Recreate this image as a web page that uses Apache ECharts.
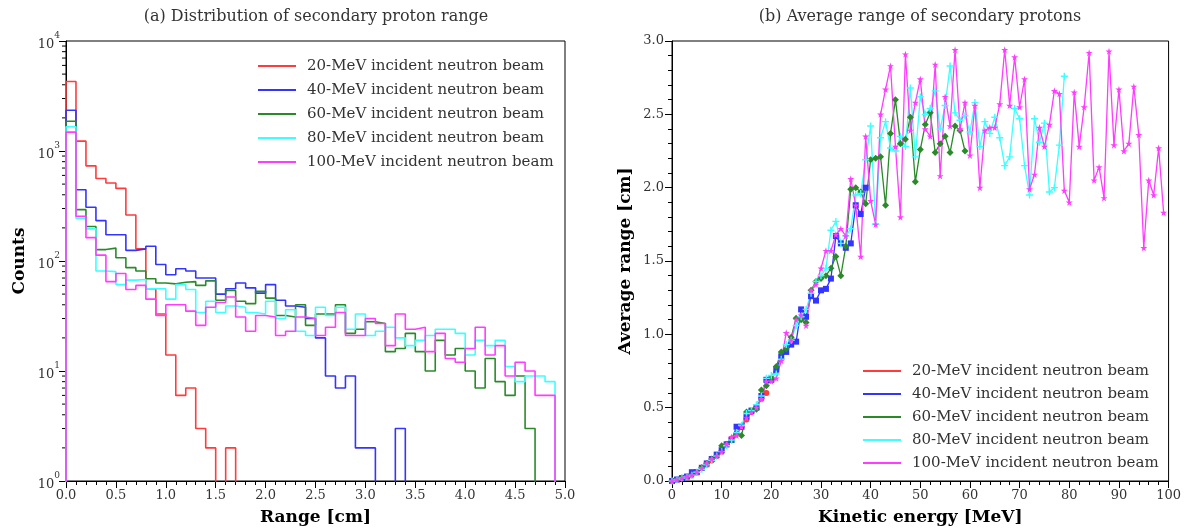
<!DOCTYPE html>
<html>
<head>
<meta charset="utf-8">
<script src="https://cdn.jsdelivr.net/npm/echarts/dist/echarts.min.js"></script>
<style>
html, body { margin: 0; padding: 0; background: #fff; }
#main { width: 1184px; height: 531px; }
</style>
</head>
<body>
<div id="main"></div>
<script>
// beam names (legend)
const beamNames = [
  '20-MeV incident neutron beam',
  '40-MeV incident neutron beam',
  '60-MeV incident neutron beam',
  '80-MeV incident neutron beam',
  '100-MeV incident neutron beam'
];
const beamColors = ['#ff3b3b', '#3434ff', '#2a8a2a', '#3cffff', '#ff3cff'];

// (a) range histograms, 0.1 cm bins starting at 0.0 cm
const binWidth = 0.1;
const counts20 = [4290,1230,733,563,511,457,262,129,56,33, 14,6,7,3,2,0,2,0,0,0, 0,0,0,0,0,0,0,0,0,0, 0,0,0,0,0,0,0,0,0,0, 0,0,0,0,0,0,0,0,0,0];
const counts40 = [2350,444,308,233,173,173,125,129,136,93, 75,85,81,70,70,50,56,63,57,51, 61,44,39,38,30,20,9,7,9,2, 2,0,0,3,0,0,0,0,0,0, 0,0,0,0,0,0,0,0,0,0];
const counts60 = [1866,293,206,127,131,107,87,81,69,63, 62,64,65,60,66,44,54,43,41,53, 46,32,31,40,26,33,33,40,22,24, 28,27,15,16,22,15,10,19,14,16, 10,7,13,8,6,9,3,0,0,0];
const counts80 = [1660,245,196,81,80,61,67,68,56,56, 45,61,55,34,43,34,39,38,34,33, 43,30,36,23,21,38,32,38,24,33, 21,23,25,20,17,19,21,24,24,22, 14,19,17,19,11,8,9,9,8,0];
const counts100 = [1485,255,163,113,65,77,55,60,45,32, 40,40,35,26,38,42,47,31,23,32, 31,21,23,31,30,21,25,34,21,21, 30,27,17,33,24,25,15,22,13,12, 16,25,14,17,9,12,10,6,6,0];

// (b) average range [cm] at kinetic energy 0,1,2,... MeV
const energyStep = 1;
const range20 = [0.00,0.01,0.02,0.03,0.05,0.06,0.09,0.11,0.14,0.17, 0.20,0.25,0.29,0.32,0.37,0.42,0.47,0.50,0.56,0.60];
const range40 = [0.00,0.01,0.02,0.03,0.06,0.06,0.09,0.12,0.15,0.18, 0.21,0.25,0.28,0.37,0.37,0.44,0.48,0.50,0.58,0.69,
  0.69,0.76,0.85,0.88,0.93,0.95,1.17,1.12,1.26,1.23, 1.30,1.31,1.38,1.67,1.62,1.59,1.62,1.88,1.82,2.00];
const range60 = [0.00,0.01,0.02,0.03,0.04,0.06,0.09,0.12,0.15,0.17, 0.24,0.25,0.28,0.32,0.31,0.47,0.48,0.49,0.62,0.65,
  0.70,0.78,0.88,0.90,0.98,1.11,1.10,1.08,1.30,1.36, 1.38,1.40,1.45,1.53,1.40,1.60,1.99,2.00,1.97,1.89,
  2.19,2.20,2.21,1.88,2.37,2.60,2.30,2.33,2.48,2.04, 2.26,2.43,2.51,2.24,2.30,2.35,2.24,2.42,2.39,2.25];
const range80 = [0.00,0.01,0.02,0.03,0.04,0.06,0.08,0.11,0.14,0.17, 0.20,0.24,0.28,0.33,0.38,0.46,0.48,0.52,0.58,0.70,
  0.72,0.73,0.83,0.93,0.96,1.06,1.12,1.17,1.28,1.36, 1.40,1.45,1.71,1.77,1.62,1.67,1.72,1.95,1.96,2.19,
  2.42,1.75,2.34,2.45,2.27,2.25,2.35,2.28,2.68,2.21, 2.62,2.50,2.54,2.66,2.40,2.56,2.83,2.51,2.46,2.49,
  2.38,2.58,2.28,2.45,2.37,2.48,2.34,2.15,2.21,2.54, 2.47,2.15,1.95,2.47,2.31,2.44,1.97,2.00,2.29,2.76];
const range100 = [0.00,0.01,0.02,0.03,0.04,0.06,0.09,0.12,0.15,0.17, 0.20,0.25,0.30,0.31,0.37,0.43,0.47,0.50,0.56,0.68,
  0.68,0.70,0.82,1.01,0.96,1.10,1.13,1.06,1.30,1.34, 1.45,1.57,1.57,1.68,1.72,1.67,2.06,1.88,1.53,2.35,
  1.91,1.75,2.50,2.67,2.83,2.28,1.80,2.91,2.39,2.58, 2.74,2.40,2.35,2.84,2.08,2.62,2.42,2.94,2.40,2.58,
  2.22,2.56,2.00,2.39,2.41,2.41,2.57,2.94,2.56,2.89, 2.55,2.74,1.99,2.09,2.41,2.28,2.43,2.66,2.64,1.98,
  1.90,2.65,2.28,2.55,2.92,2.05,2.14,1.93,2.93,2.29, 2.67,2.25,2.30,2.69,2.36,1.59,2.05,1.95,2.27,1.83];

const FONT = 'DejaVu Serif';
const EMPTY = 0.1; // empty bins fall below the log axis and get clipped

// histogram -> step outline
function stepData(counts) {
  const pts = [[0, EMPTY]];
  counts.forEach((c, i) => {
    const v = c > 0 ? c : EMPTY;
    const x0 = +(i * binWidth).toFixed(2), x1 = +((i + 1) * binWidth).toFixed(2);
    pts.push([x0, v]);
    pts.push([x1, v]);
  });
  return pts;
}
function energyData(vals) {
  return vals.map((v, i) => [i * energyStep, v]);
}

const histCounts = [counts20, counts40, counts60, counts80, counts100];
const avgRanges = [range20, range40, range60, range80, range100];
const markers = [
  ['circle', 6],
  ['rect', 6],
  ['diamond', 7],
  ['path://M40,0 L60,0 L60,40 L100,40 L100,60 L60,60 L60,100 L40,100 L40,60 L0,60 L0,40 L40,40 Z', 7],
  ['path://M50,0 L61,35 L98,35 L68,57 L79,91 L50,70 L21,91 L32,57 L2,35 L39,35 Z', 7]
];

const axisCommon = {
  axisLine: { show: true, onZero: false, lineStyle: { color: '#000', width: 1 } },
  axisTick: { show: true, inside: false, length: 7, lineStyle: { color: '#000' } },
  splitLine: { show: false },
  nameLocation: 'middle',
  nameTextStyle: { fontFamily: FONT, fontSize: 17, fontWeight: 'bold', color: '#000' }
};
const labelStyle = { color: '#333', fontFamily: FONT, fontSize: 13 };

let series = [];
histCounts.forEach((c, i) => {
  series.push({
    name: beamNames[i], type: 'line', xAxisIndex: 0, yAxisIndex: 0,
    data: stepData(c), symbol: 'none', showSymbol: false, clip: true,
    lineStyle: { width: 1.6, color: beamColors[i] },
    itemStyle: { color: beamColors[i] }
  });
});
avgRanges.forEach((r, i) => {
  series.push({
    name: beamNames[i], type: 'line', xAxisIndex: 1, yAxisIndex: 1,
    data: energyData(r), symbol: markers[i][0], symbolSize: markers[i][1],
    showAllSymbol: true,
    lineStyle: { width: 1.3, color: beamColors[i] },
    itemStyle: { color: beamColors[i] }
  });
});

const legendCommon = {
  orient: 'vertical', icon: 'rect', itemWidth: 38, itemHeight: 2,
  selectedMode: false, data: beamNames,
  textStyle: { fontFamily: FONT, fontSize: 15, color: '#333', lineHeight: 16, padding: [0, 0, 0, 6] }
};

const option = {
  animation: false,
  backgroundColor: '#fff',
  grid: [
    { left: 66, top: 41, width: 499, height: 443, show: true, borderColor: '#000', borderWidth: 1 },
    { left: 672, top: 41, width: 500, height: 443, show: true, borderColor: '#000', borderWidth: 1 }
  ],
  legend: [
    Object.assign({ left: 253, top: 53, itemGap: 8 }, legendCommon),
    Object.assign({ left: 858, top: 358, itemGap: 7 }, legendCommon)
  ],
  xAxis: [
    Object.assign({}, axisCommon, {
      gridIndex: 0, type: 'value', min: 0, max: 5, interval: 0.5,
      minorTick: { show: true, splitNumber: 5, length: 4, lineStyle: { color: '#000' } },
      axisLabel: Object.assign({ formatter: v => v.toFixed(1), margin: 8 }, labelStyle),
      name: 'Range [cm]', nameGap: 28
    }),
    Object.assign({}, axisCommon, {
      gridIndex: 1, type: 'value', min: 0, max: 100, interval: 10,
      minorTick: { show: true, splitNumber: 5, length: 4, lineStyle: { color: '#000' } },
      axisLabel: Object.assign({ margin: 8 }, labelStyle),
      name: 'Kinetic energy [MeV]', nameGap: 28
    })
  ],
  yAxis: [
    Object.assign({}, axisCommon, {
      gridIndex: 0, type: 'log', logBase: 10, min: 1, max: 10000,
      axisLabel: {
        margin: 6,
        formatter: v => '{b|10}{s|' + Math.round(Math.log10(v)) + '}',
        rich: {
          b: { fontFamily: FONT, fontSize: 13, color: '#333', lineHeight: 20, verticalAlign: 'bottom' },
          s: { fontFamily: FONT, fontSize: 9, color: '#333', lineHeight: 20, verticalAlign: 'top', padding: [0, 0, 6, 0] }
        }
      },
      name: 'Counts', nameGap: 38, nameRotate: 90
    }),
    Object.assign({}, axisCommon, {
      gridIndex: 1, type: 'value', min: 0, max: 3, interval: 0.5,
      minorTick: { show: true, splitNumber: 5, length: 4, lineStyle: { color: '#000' } },
      axisLabel: Object.assign({ formatter: v => v.toFixed(1), margin: 8 }, labelStyle),
      name: 'Average range [cm]', nameGap: 38, nameRotate: 90
    })
  ],
  series: series
};

const chart = echarts.init(document.getElementById('main'), null, { renderer: 'canvas' });
chart.setOption(option);

// titles + log-axis minor ticks (at 2..9 x 10^k)
const graphics = [
  { type: 'text', x: 316, y: 17, silent: true,
    style: { text: '(a) Distribution of secondary proton range', font: '16px "DejaVu Serif"', fill: '#333',
      align: 'center', verticalAlign: 'middle', textAlign: 'center', textVerticalAlign: 'middle' } },
  { type: 'text', x: 920, y: 17, silent: true,
    style: { text: '(b) Average range of secondary protons', font: '16px "DejaVu Serif"', fill: '#333',
      align: 'center', verticalAlign: 'middle', textAlign: 'center', textVerticalAlign: 'middle' } }
];
for (let k = 0; k < 4; k++) {
  for (let m = 2; m < 10; m++) {
    const p = chart.convertToPixel({ gridIndex: 0 }, [0, m * Math.pow(10, k)]);
    graphics.push({ type: 'line', silent: true,
      shape: { x1: p[0] - 4, y1: p[1], x2: p[0], y2: p[1] },
      style: { stroke: '#000', lineWidth: 1 } });
  }
}
chart.setOption({ graphic: graphics });
</script>
</body>
</html>
